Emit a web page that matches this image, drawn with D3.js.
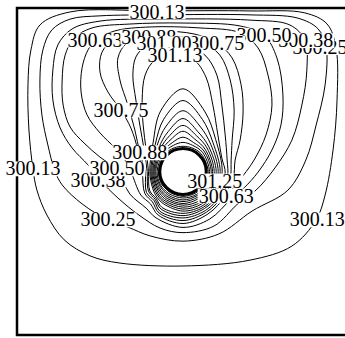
<!DOCTYPE html>
<html>
<head>
<meta charset="utf-8">
<script src="https://cdn.jsdelivr.net/npm/d3@7"></script>
<style>
  html, body { margin: 0; padding: 0; background: #fff; }
  svg { display: block; }
</style>
</head>
<body>
<svg id="chart" width="345" height="338"></svg>
<script>
// Isotherms of the cavity (temperature in K), cavity coordinates X, Y in [0, 1].
// Each closed isotherm is a list of [X, Y] points.
const iso300_125 = [[0.422,0.991],[0.702,0.991],[0.867,0.985],[0.934,0.951],[0.961,0.878],[0.964,0.719],[0.952,0.566],[0.928,0.428],[0.901,0.352],[0.828,0.272],[0.702,0.229],[0.5,0.211],[0.310,0.220],[0.220,0.242],[0.142,0.291],[0.090,0.367],[0.060,0.443],[0.048,0.508],[0.036,0.627],[0.033,0.765],[0.042,0.872],[0.069,0.948],[0.160,0.988]];
const iso300_250 = [[0.431,0.979],[0.702,0.979],[0.846,0.969],[0.907,0.936],[0.931,0.881],[0.928,0.765],[0.901,0.642],[0.870,0.535],[0.816,0.443],[0.708,0.379],[0.608,0.309],[0.5,0.287],[0.401,0.303],[0.334,0.330],[0.274,0.352],[0.196,0.401],[0.136,0.459],[0.114,0.502],[0.093,0.581],[0.075,0.673],[0.069,0.780],[0.078,0.872],[0.105,0.933],[0.160,0.966],[0.25,0.976]];
const iso300_375 = [[0.431,0.966],[0.702,0.963],[0.822,0.948],[0.867,0.902],[0.873,0.810],[0.858,0.703],[0.828,0.596],[0.777,0.511],[0.720,0.443],[0.666,0.402],[0.593,0.333],[0.5,0.313],[0.431,0.327],[0.367,0.367],[0.304,0.419],[0.25,0.474],[0.214,0.520],[0.166,0.572],[0.130,0.633],[0.108,0.719],[0.108,0.810],[0.123,0.887],[0.166,0.936],[0.25,0.960]];
const iso300_500 = [[0.5,0.954],[0.672,0.945],[0.744,0.917],[0.783,0.847],[0.801,0.734],[0.795,0.642],[0.768,0.566],[0.726,0.498],[0.684,0.450],[0.645,0.416],[0.581,0.355],[0.5,0.329],[0.419,0.358],[0.389,0.388],[0.340,0.431],[0.301,0.505],[0.25,0.544],[0.202,0.587],[0.160,0.636],[0.139,0.703],[0.136,0.780],[0.145,0.856],[0.172,0.908],[0.226,0.939],[0.340,0.951]];
const iso300_625 = [[0.551,0.939],[0.672,0.924],[0.726,0.878],[0.756,0.795],[0.768,0.703],[0.75,0.612],[0.714,0.535],[0.666,0.468],[0.630,0.425],[0.575,0.370],[0.5,0.341],[0.425,0.367],[0.402,0.401],[0.373,0.428],[0.343,0.5],[0.325,0.535],[0.295,0.572],[0.25,0.618],[0.211,0.673],[0.193,0.743],[0.196,0.817],[0.214,0.872],[0.238,0.902],[0.295,0.930],[0.401,0.942]];
const iso300_750 = [[0.431,0.930],[0.536,0.920],[0.602,0.893],[0.648,0.847],[0.675,0.765],[0.681,0.682],[0.672,0.596],[0.657,0.535],[0.651,0.477],[0.623,0.428],[0.571,0.376],[0.5,0.350],[0.428,0.373],[0.408,0.407],[0.385,0.433],[0.377,0.5],[0.364,0.566],[0.343,0.633],[0.313,0.688],[0.274,0.743],[0.25,0.804],[0.256,0.865],[0.295,0.908],[0.355,0.927]];
const iso300_875 = [[0.395,0.914],[0.476,0.914],[0.551,0.899],[0.611,0.856],[0.642,0.780],[0.654,0.688],[0.648,0.596],[0.645,0.535],[0.642,0.480],[0.617,0.431],[0.568,0.381],[0.5,0.358],[0.431,0.378],[0.413,0.411],[0.390,0.436],[0.386,0.5],[0.370,0.557],[0.355,0.627],[0.334,0.703],[0.310,0.780],[0.304,0.847],[0.331,0.893]];
const iso301_000 = [[0.437,0.893],[0.506,0.887],[0.566,0.856],[0.602,0.795],[0.617,0.703],[0.627,0.612],[0.633,0.535],[0.634,0.486],[0.611,0.434],[0.565,0.387],[0.5,0.365],[0.434,0.385],[0.416,0.415],[0.396,0.440],[0.392,0.5],[0.383,0.566],[0.370,0.642],[0.358,0.719],[0.349,0.795],[0.358,0.850],[0.386,0.881]];
const iso301_125 = [[0.476,0.856],[0.533,0.841],[0.569,0.789],[0.590,0.703],[0.605,0.612],[0.617,0.541],[0.627,0.495],[0.607,0.437],[0.562,0.391],[0.5,0.372],[0.437,0.390],[0.419,0.418],[0.400,0.441],[0.396,0.5],[0.389,0.566],[0.380,0.642],[0.377,0.719],[0.386,0.795],[0.416,0.841]];

const outerLevels = [300.125, 300.25, 300.375, 300.5, 300.625, 300.75, 300.875, 301.0, 301.125];
const outerShapes = [iso300_125, iso300_250, iso300_375, iso300_500, iso300_625, iso300_750, iso300_875, iso301_000, iso301_125];

// Heated cylinder: centre X, centre Y, radius
const cylinder = [0.5, 0.5, 0.070];

// Isotherms wrapped round the cylinder: radius (cavity units) along fixed bearings (deg, CCW from +X)
const innerLevels = [301.25, 301.375, 301.5, 301.625, 301.75, 301.875, 302.0, 302.125, 302.25];
const bearings = [90, 70, 45, 0, -30, -60, -90, -120, -135, -150, 180, 135, 110];
const innerRadii = [
  [0.253,0.194,0.139,0.118,0.118,0.120,0.121,0.115,0.111,0.105,0.100,0.127,0.197],
  [0.217,0.170,0.127,0.112,0.112,0.114,0.115,0.110,0.106,0.101,0.097,0.118,0.170],
  [0.186,0.148,0.118,0.106,0.106,0.108,0.109,0.105,0.102,0.097,0.094,0.111,0.148],
  [0.162,0.130,0.109,0.100,0.100,0.102,0.103,0.100,0.097,0.093,0.091,0.103,0.130],
  [0.141,0.117,0.102,0.094,0.094,0.095,0.098,0.095,0.092,0.090,0.088,0.097,0.117],
  [0.123,0.105,0.095,0.089,0.089,0.090,0.092,0.090,0.088,0.086,0.085,0.091,0.105],
  [0.105,0.094,0.089,0.085,0.085,0.085,0.087,0.085,0.083,0.082,0.082,0.086,0.094],
  [0.089,0.085,0.083,0.080,0.080,0.081,0.081,0.080,0.079,0.079,0.078,0.081,0.085],
  [0.077,0.077,0.077,0.076,0.076,0.076,0.076,0.075,0.074,0.075,0.074,0.076,0.077]
];

// Contour labels (drawn in this order; later ones sit on top)
const labelText = ["300.25","300.38","300.50","300.75","300.63","300.88","301.00","301.13","300.13",
                   "300.75","300.88","300.13","300.38","300.50","301.25","300.63","300.25","300.13"];
const labelX = [0.913,0.870,0.744,0.602,0.235,0.397,0.443,0.476,0.422,
                0.313,0.370,0.048,0.244,0.301,0.596,0.630,0.274,0.904];
const labelY = [0.879,0.900,0.917,0.893,0.902,0.911,0.891,0.856,0.988,
                0.688,0.557,0.508,0.474,0.508,0.471,0.425,0.352,0.352];

const x = d3.scaleLinear().domain([0, 1]).range([17, 349]);
const y = d3.scaleLinear().domain([0, 1]).range([335, 8]);

const svg = d3.select("#chart");

const closedLine = d3.line()
  .x(d => x(d[0]))
  .y(d => y(d[1]))
  .curve(d3.curveCatmullRomClosed.alpha(0.5));

const innerShapes = innerRadii.map(row => bearings.map((b, j) => {
  const a = b * Math.PI / 180;
  return [cylinder[0] + row[j] * Math.cos(a), cylinder[1] + row[j] * Math.sin(a)];
}));

const contours = outerLevels.map((v, i) => ({ level: v, pts: outerShapes[i] }))
  .concat(innerLevels.map((v, i) => ({ level: v, pts: innerShapes[i] })));

svg.append("g")
  .attr("fill", "none")
  .attr("stroke", "#000")
  .attr("stroke-width", 1)
  .selectAll("path")
  .data(contours)
  .join("path")
  .attr("d", d => closedLine(d.pts));

// cylinder wall
svg.append("ellipse")
  .attr("cx", x(cylinder[0]))
  .attr("cy", y(cylinder[1]))
  .attr("rx", x(cylinder[2]) - x(0))
  .attr("ry", y(0) - y(cylinder[2]))
  .attr("fill", "#fff")
  .attr("stroke", "#000")
  .attr("stroke-width", 3);

// cavity walls
svg.append("rect")
  .attr("x", x(0))
  .attr("y", y(1))
  .attr("width", x(1) - x(0))
  .attr("height", y(0) - y(1))
  .attr("fill", "none")
  .attr("stroke", "#000")
  .attr("stroke-width", 2.5);

// labels with a white knock-out behind each one
const fontSize = 20;
const lg = svg.append("g")
  .attr("font-family", "'Liberation Serif', 'Times New Roman', serif")
  .attr("font-size", fontSize);

labelText.forEach((t, i) => {
  const cx = x(labelX[i]), cy = y(labelY[i]);
  const g = lg.append("g");
  const rect = g.append("rect").attr("fill", "#fff");
  const text = g.append("text")
    .attr("x", cx)
    .attr("y", cy + fontSize * 0.33)
    .attr("text-anchor", "middle")
    .attr("fill", "#000")
    .text(t);
  const w = text.node().getComputedTextLength();
  rect.attr("x", cx - w / 2 - 1)
    .attr("y", cy - fontSize * 0.37)
    .attr("width", w + 2)
    .attr("height", fontSize * 0.74);
});
</script>
</body>
</html>
